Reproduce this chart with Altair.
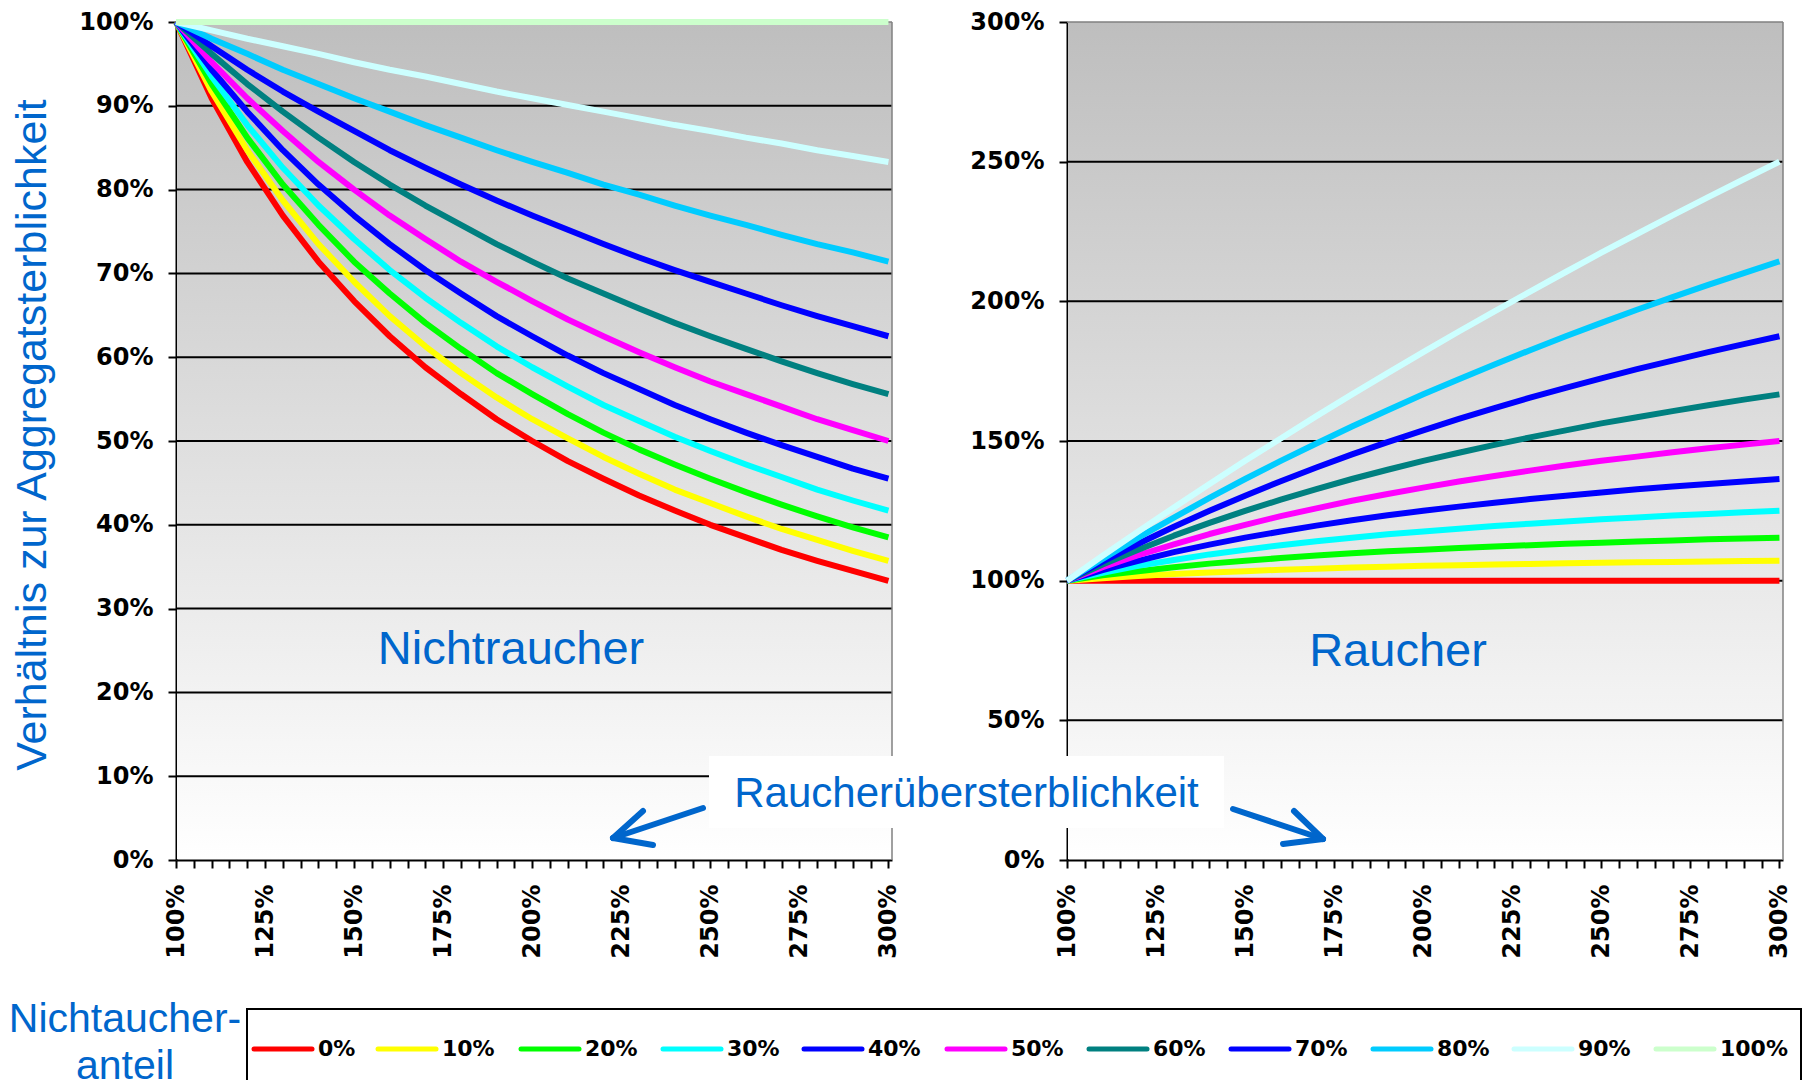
import altair as alt
import pandas as pd

# ---------------- data ----------------
x_vals = [100, 110, 120, 130, 140, 150, 160, 170, 180, 190, 200,
          210, 220, 230, 240, 250, 260, 270, 280, 290, 300]
x_ticks = [100, 105, 110, 115, 120, 125, 130, 135, 140, 145, 150, 155, 160, 165,
           170, 175, 180, 185, 190, 195, 200, 205, 210, 215, 220, 225, 230, 235,
           240, 245, 250, 255, 260, 265, 270, 275, 280, 285, 290, 295, 300]
left_y_ticks = [0, 10, 20, 30, 40, 50, 60, 70, 80, 90, 100]
right_y_ticks = [0, 50, 100, 150, 200, 250, 300]
left_grid = [10, 20, 30, 40, 50, 60, 70, 80, 90]
right_grid = [50, 100, 150, 200, 250]

series_labels = ["0%", "10%", "20%", "30%", "40%", "50%", "60%", "70%", "80%", "90%", "100%"]
series_colors = ["#FF0000", "#FFFF00", "#00FF00", "#00FFFF", "#0000FF", "#FF00FF",
                 "#008080", "#0000FF", "#00CCFF", "#CCFFFF", "#CCFFCC"]

# Nichtraucher (left panel)
ns_00 = [100, 90.9, 83.3, 76.9, 71.4, 66.7, 62.5, 58.8, 55.6, 52.6, 50.0, 47.6, 45.5, 43.5, 41.7, 40.0, 38.5, 37.0, 35.7, 34.5, 33.3]
ns_10 = [100, 91.7, 84.7, 78.7, 73.5, 69.0, 64.9, 61.3, 58.1, 55.2, 52.6, 50.3, 48.1, 46.1, 44.2, 42.6, 41.0, 39.5, 38.2, 36.9, 35.7]
ns_20 = [100, 92.6, 86.2, 80.6, 75.8, 71.4, 67.6, 64.1, 61.0, 58.1, 55.6, 53.2, 51.0, 49.0, 47.2, 45.5, 43.9, 42.4, 41.0, 39.7, 38.5]
ns_30 = [100, 93.5, 87.7, 82.6, 78.1, 74.1, 70.4, 67.1, 64.1, 61.3, 58.8, 56.5, 54.3, 52.4, 50.5, 48.8, 47.2, 45.7, 44.2, 42.9, 41.7]
ns_40 = [100, 94.3, 89.3, 84.7, 80.6, 76.9, 73.5, 70.4, 67.6, 64.9, 62.5, 60.2, 58.1, 56.2, 54.3, 52.6, 51.0, 49.5, 48.1, 46.7, 45.5]
ns_50 = [100, 95.2, 90.9, 87.0, 83.3, 80.0, 76.9, 74.1, 71.4, 69.0, 66.7, 64.5, 62.5, 60.6, 58.8, 57.1, 55.6, 54.1, 52.6, 51.3, 50.0]
ns_60 = [100, 96.2, 92.6, 89.3, 86.2, 83.3, 80.6, 78.1, 75.8, 73.5, 71.4, 69.4, 67.6, 65.8, 64.1, 62.5, 61.0, 59.5, 58.1, 56.8, 55.6]
ns_70 = [100, 97.1, 94.3, 91.7, 89.3, 87.0, 84.7, 82.6, 80.6, 78.7, 76.9, 75.2, 73.5, 71.9, 70.4, 69.0, 67.6, 66.2, 64.9, 63.7, 62.5]
ns_80 = [100, 98.0, 96.2, 94.3, 92.6, 90.9, 89.3, 87.7, 86.2, 84.7, 83.3, 82.0, 80.6, 79.4, 78.1, 76.9, 75.8, 74.6, 73.5, 72.5, 71.4]
ns_90 = [100, 99.0, 98.0, 97.1, 96.2, 95.2, 94.3, 93.5, 92.6, 91.7, 90.9, 90.1, 89.3, 88.5, 87.7, 87.0, 86.2, 85.5, 84.7, 84.0, 83.3]
ns_100 = [100, 100, 100, 100, 100, 100, 100, 100, 100, 100, 100, 100, 100, 100, 100, 100, 100, 100, 100, 100, 100]

# Raucher (right panel)
rs_00 = [100, 100, 100, 100, 100, 100, 100, 100, 100, 100, 100, 100, 100, 100, 100, 100, 100, 100, 100, 100, 100]
rs_10 = [100, 100.9, 101.7, 102.4, 102.9, 103.4, 103.9, 104.3, 104.7, 105.0, 105.3, 105.5, 105.8, 106.0, 106.2, 106.4, 106.6, 106.7, 106.9, 107.0, 107.1]
rs_20 = [100, 101.9, 103.4, 104.8, 106.1, 107.1, 108.1, 109.0, 109.8, 110.5, 111.1, 111.7, 112.2, 112.7, 113.2, 113.6, 114.0, 114.4, 114.8, 115.1, 115.4]
rs_30 = [100, 102.8, 105.3, 107.4, 109.4, 111.1, 112.7, 114.1, 115.4, 116.6, 117.6, 118.6, 119.6, 120.4, 121.2, 122.0, 122.6, 123.3, 123.9, 124.5, 125.0]
rs_40 = [100, 103.8, 107.1, 110.2, 112.9, 115.4, 117.6, 119.7, 121.6, 123.4, 125.0, 126.5, 127.9, 129.2, 130.4, 131.6, 132.7, 133.7, 134.6, 135.5, 136.4]
rs_50 = [100, 104.8, 109.1, 113.0, 116.7, 120.0, 123.1, 125.9, 128.6, 131.0, 133.3, 135.5, 137.5, 139.4, 141.2, 142.9, 144.4, 146.0, 147.4, 148.7, 150.0]
rs_60 = [100, 105.8, 111.1, 116.1, 120.7, 125.0, 129.0, 132.8, 136.4, 139.7, 142.9, 145.8, 148.6, 151.3, 153.8, 156.3, 158.5, 160.7, 162.8, 164.8, 166.7]
rs_70 = [100, 106.8, 113.2, 119.3, 125.0, 130.4, 135.6, 140.5, 145.2, 149.6, 153.8, 157.9, 161.8, 165.5, 169.0, 172.4, 175.7, 178.8, 181.8, 184.7, 187.5]
rs_80 = [100, 107.8, 115.4, 122.6, 129.6, 136.4, 142.9, 149.1, 155.2, 161.0, 166.7, 172.1, 177.4, 182.5, 187.5, 192.3, 197.0, 201.5, 205.9, 210.1, 214.3]
rs_90 = [100, 108.9, 117.6, 126.2, 134.6, 142.9, 150.9, 158.9, 166.7, 174.3, 181.8, 189.2, 196.4, 203.5, 210.5, 217.4, 224.1, 230.8, 237.3, 243.7, 250.0]

ns_series = [ns_00, ns_10, ns_20, ns_30, ns_40, ns_50, ns_60, ns_70, ns_80, ns_90, ns_100]
rs_series = [rs_00, rs_10, rs_20, rs_30, rs_40, rs_50, rs_60, rs_70, rs_80, rs_90]

# ---------------- layout / style ----------------
W, H = 716, 838
SPACING = 175
ORX_L, ORX_R, ORY = 175, 175 + W + SPACING, 21   # page origin of the plot areas
BLUE = "#0066CC"
AX_FONT = "DejaVu Sans"
TXT_FONT = "Liberation Sans"
AX_SIZE = 24
legend_x_page = [253, 377, 520, 662, 803, 946, 1088, 1230, 1372, 1513, 1655]

color_scale = alt.Scale(domain=series_labels, range=series_colors)
one = pd.DataFrame({"a": [0]})


def long_df(series_list):
    rows = []
    for lab, vals in zip(series_labels, series_list):
        for xv, yv in zip(x_vals, vals):
            rows.append({"x": xv, "y": yv, "series": lab})
    return pd.DataFrame(rows)


def vtext(txt, x, y, size, color=BLUE, font=TXT_FONT, weight="normal",
          align="center", baseline="alphabetic", angle=0):
    return alt.Chart(one).mark_text(
        text=txt, font=font, fontSize=size, fontWeight=weight, color=color,
        align=align, baseline=baseline, angle=angle
    ).encode(x=alt.value(x), y=alt.value(y))


def seg(x1, y1, x2, y2, color, width, cap="round"):
    return alt.Chart(one).mark_rule(color=color, strokeWidth=width, strokeCap=cap).encode(
        x=alt.value(x1), y=alt.value(y1), x2=alt.value(x2), y2=alt.value(y2))


def panel(series_list, y_ticks, y_max, grid_vals):
    df = long_df(series_list)
    xscale = alt.Scale(domain=[100, 301], nice=False, zero=False)
    yscale = alt.Scale(domain=[0, y_max], nice=False, zero=False)
    x_axis = alt.Axis(values=x_ticks,
                      labelExpr="datum.value % 25 === 0 ? datum.value + '%' : ''",
                      labelAngle=270, labelFont=AX_FONT, labelFontSize=AX_SIZE,
                      labelFontWeight="bold", labelColor="black", labelPadding=16,
                      labelOverlap=False, labelFlush=False, tickSize=8, tickWidth=2,
                      tickColor="black", domainColor="black", domainWidth=2,
                      grid=False, title=None)
    y_axis = alt.Axis(values=y_ticks, labelExpr="datum.value + '%'",
                      labelFont=AX_FONT, labelFontSize=AX_SIZE, labelFontWeight="bold",
                      labelColor="black", labelPadding=15, labelOverlap=False,
                      labelFlush=False, tickSize=8, tickWidth=2, tickColor="black",
                      domainColor="black", domainWidth=2, grid=False, title=None)
    bg = alt.Chart(one).mark_rect(
        fill=alt.LinearGradient(
            gradient="linear",
            stops=[alt.GradientStop(color="#BEBEBE", offset=0),
                   alt.GradientStop(color="#FFFFFF", offset=1)],
            x1=0, x2=0, y1=0, y2=1)
    ).encode(x=alt.value(1), x2=alt.value(W), y=alt.value(0), y2=alt.value(H - 1))
    grid = alt.Chart(pd.DataFrame({"g": grid_vals})).mark_rule(
        color="black", strokeWidth=2
    ).encode(y=alt.Y("g:Q", scale=yscale, axis=y_axis), x=alt.value(0), x2=alt.value(W))
    border_top = seg(0, 0, W, 0, "#808080", 1.5, "butt")
    border_right = seg(W, 0, W, H, "#808080", 1.5, "butt")
    lines = alt.Chart(df).mark_line(strokeWidth=6, strokeJoin="round").encode(
        x=alt.X("x:Q", scale=xscale, axis=x_axis),
        y=alt.Y("y:Q", scale=yscale, axis=y_axis),
        color=alt.Color("series:N", scale=color_scale, legend=None),
    )
    return [bg, grid, border_top, border_right, lines]


def lp(xp, yp):
    return xp - ORX_L, yp - ORY


def rp(xp, yp):
    return xp - ORX_R, yp - ORY


# ---------------- left panel ----------------
left_layers = panel(ns_series, left_y_ticks, 100, left_grid)
x, y = lp(32, 434)
left_layers.append(vtext("Verhältnis zur Aggregatsterblichkeit", x, y, 43,
                         baseline="middle", angle=270))
x, y = lp(510, 663)
left_layers.append(vtext("Nichtraucher", x, y, 47))

# legend (manual, Excel-style box at the bottom)
bx0, by0 = lp(246, 1008)
bx1, by1 = lp(1800, 1078)
left_layers.append(seg(bx0, by0, bx1, by0, "black", 2, "square"))
left_layers.append(seg(bx0, by0, bx0, by1, "black", 2, "square"))
left_layers.append(seg(bx1, by0, bx1, by1, "black", 2, "square"))
for lab, col, xpage in zip(series_labels, series_colors, legend_x_page):
    x, y = lp(xpage, 1048)
    left_layers.append(seg(x, y, x + 58, y, col, 5, "round"))
    left_layers.append(vtext(lab, x + 64, y, 22, color="black", font=AX_FONT,
                             weight="bold", align="left", baseline="middle"))
x, y = lp(124, 1031)
left_layers.append(vtext("Nichtaucher-", x, y, 41))
x, y = lp(124, 1078)
left_layers.append(vtext("anteil", x, y, 41))

left = alt.layer(*left_layers).properties(width=W, height=H)

# ---------------- right panel ----------------
right_layers = panel(rs_series, right_y_ticks, 300, right_grid)
x, y = rp(1397, 665)
right_layers.append(vtext("Raucher", x, y, 47))

# annotation box spanning both panels
x0, y0 = rp(708, 755)
x1, y1 = rp(1223, 827)
right_layers.append(alt.Chart(one).mark_rect(fill="white").encode(
    x=alt.value(x0), x2=alt.value(x1), y=alt.value(y0), y2=alt.value(y1)))
x, y = rp(965.5, 806)
right_layers.append(vtext("Raucherübersterblichkeit", x, y, 42))

arrow_segments = [
    ((702, 807), (612, 837)), ((612, 837), (642, 810)), ((612, 837), (652, 844)),
    ((1232, 808), (1322, 838)), ((1322, 838), (1293, 810)), ((1322, 838), (1282, 843)),
]
for (pa, pb) in arrow_segments:
    ax, ay = rp(*pa)
    bx, by = rp(*pb)
    right_layers.append(seg(ax, ay, bx, by, BLUE, 6, "round"))

right = alt.layer(*right_layers).properties(width=W, height=H)

chart = alt.hconcat(left, right, spacing=SPACING, bounds="flush").properties(
    padding={"top": 2, "left": 0, "right": 0, "bottom": 0}, background="white"
).configure_view(strokeWidth=0)

chart.save("out.html", embed_options={"renderer": "svg", "actions": False})
